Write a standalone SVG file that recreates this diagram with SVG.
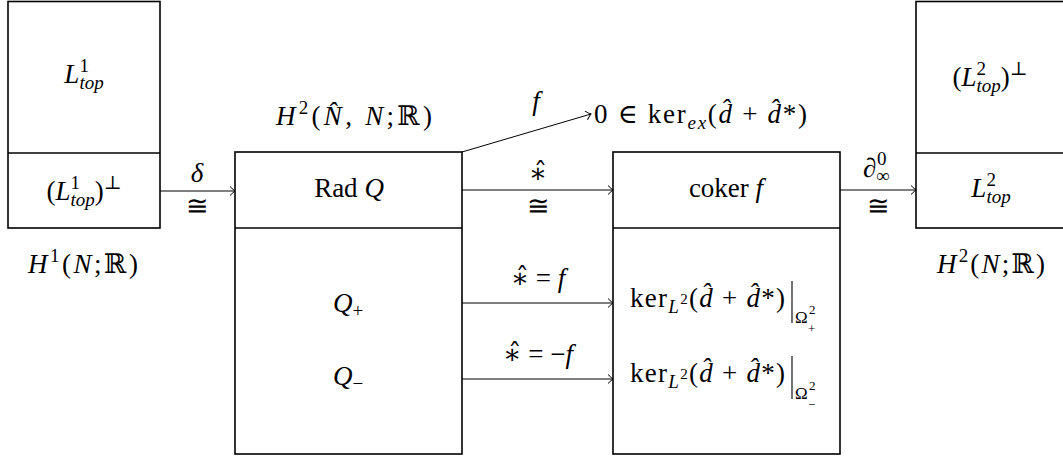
<svg xmlns="http://www.w3.org/2000/svg" width="1063" height="459" viewBox="0 0 1063 459" font-family="'Liberation Serif', 'Times New Roman', 'DejaVu Serif', serif">
<style>
text{font-family:'Liberation Serif','Times New Roman','DejaVu Serif',serif;font-size:27px;fill:#000}
.c{text-anchor:middle}
.i{font-style:italic}
.s{font-size:19px}
.ss{font-size:15px}
.om{font-size:17px}
.os{font-size:13px}
.box{fill:#fff;stroke:#000;stroke-width:1.6}
.div{stroke:#000;stroke-width:1.6}
.arr{stroke:#000;stroke-width:1;fill:none}
.bar{stroke:#000;stroke-width:1.1}
</style>
<defs>
<marker id="ah" markerUnits="userSpaceOnUse" viewBox="-7 -6 8 12" markerWidth="8" markerHeight="12" refX="0" refY="0" orient="auto">
<path d="M-5,-4.5 Q-1.5,-1 0,0 Q-1.5,1 -5,4.5" fill="none" stroke="#000" stroke-width="1"/>
</marker>
</defs>

<g id="node-left">
<rect class="box" x="8" y="1.5" width="152" height="226.5"/>
<line class="div" x1="8" y1="153" x2="160" y2="153"/>
<text class="c" x="84" y="83"><tspan class="i">L</tspan><tspan class="s" dy="-11">1</tspan><tspan class="s i" dx="-9.5" dy="17">top</tspan></text>
<text class="c" x="84" y="200">(<tspan class="i">L</tspan><tspan class="s" dy="-11">1</tspan><tspan class="s i" dx="-9.5" dy="17">top</tspan><tspan dy="-6">)</tspan><tspan class="s" dy="-11">⊥</tspan></text>
</g>
<g id="label-H1">
<text x="28" y="273" textLength="110" lengthAdjust="spacing"><tspan class="i">H</tspan><tspan class="s" dy="-11">1</tspan><tspan dy="11">(</tspan><tspan class="i">N</tspan>;ℝ)</text>
</g>

<g id="node-rad">
<rect class="box" x="235" y="152" width="227" height="302"/>
<line class="div" x1="235" y1="228" x2="462" y2="228"/>
<text class="c" x="349" y="197">Rad <tspan class="i">Q</tspan></text>
<text class="c" x="348" y="312"><tspan class="i">Q</tspan><tspan class="s" dy="5">+</tspan></text>
<text class="c" x="348" y="385"><tspan class="i">Q</tspan><tspan class="s" dy="5">−</tspan></text>
</g>
<g id="label-H2rel">
<text x="276" y="125" textLength="156" lengthAdjust="spacing"><tspan class="i">H</tspan><tspan class="s" dy="-11">2</tspan><tspan dy="11">(</tspan><tspan class="i">N̂</tspan>, <tspan class="i">N</tspan>;ℝ)</text>
</g>

<g id="node-coker">
<rect class="box" x="613" y="152" width="227" height="302"/>
<line class="div" x1="613" y1="228" x2="840" y2="228"/>
<text class="c" x="726" y="197">coker <tspan class="i">f</tspan></text>
<text x="630" y="307" textLength="155" lengthAdjust="spacing">ker<tspan class="s i" dy="6">L</tspan><tspan class="ss" dy="-9">2</tspan><tspan dy="3">(</tspan><tspan class="i">d̂</tspan> + <tspan class="i">d̂</tspan>*)</text>
<line class="bar" x1="792" y1="281" x2="792" y2="323"/>
<text x="795" y="323" class="om">Ω</text>
<text x="809" y="314" class="os">2</text>
<text x="808" y="333" class="os">+</text>
<text x="630" y="382" textLength="155" lengthAdjust="spacing">ker<tspan class="s i" dy="6">L</tspan><tspan class="ss" dy="-9">2</tspan><tspan dy="3">(</tspan><tspan class="i">d̂</tspan> + <tspan class="i">d̂</tspan>*)</text>
<line class="bar" x1="792" y1="356" x2="792" y2="399"/>
<text x="795" y="399" class="om">Ω</text>
<text x="809" y="390" class="os">2</text>
<text x="808" y="409" class="os">−</text>
</g>
<g id="label-kerex">
<text x="594" y="123" textLength="213" lengthAdjust="spacing">0 ∈  ker<tspan class="s i" dy="6">ex</tspan><tspan dy="-6">(</tspan><tspan class="i">d̂</tspan> + <tspan class="i">d̂</tspan>*)</text>
</g>

<g id="node-right">
<rect class="box" x="916" y="1.5" width="160" height="226.5"/>
<line class="div" x1="916" y1="153" x2="1070" y2="153"/>
<text class="c" x="990" y="86">(<tspan class="i">L</tspan><tspan class="s" dy="-11">2</tspan><tspan class="s i" dx="-9.5" dy="17">top</tspan><tspan dy="-6">)</tspan><tspan class="s" dy="-11">⊥</tspan></text>
<text class="c" x="991" y="197"><tspan class="i">L</tspan><tspan class="s" dy="-11">2</tspan><tspan class="s i" dx="-9.5" dy="17">top</tspan></text>
</g>
<g id="label-H2">
<text x="937" y="273" textLength="108" lengthAdjust="spacing"><tspan class="i">H</tspan><tspan class="s" dy="-11">2</tspan><tspan dy="11">(</tspan><tspan class="i">N</tspan>;ℝ)</text>
</g>

<g id="connectors">
<line class="arr" x1="160" y1="191" x2="235" y2="191" marker-end="url(#ah)"/>
<text class="c i" x="197" y="182">δ</text>
<text class="c" x="197" y="215">≅</text>
<line class="arr" x1="462" y1="152" x2="591" y2="114" marker-end="url(#ah)"/>
<text class="c i" x="536" y="110">f</text>
<line class="arr" x1="462" y1="190" x2="613" y2="190" marker-end="url(#ah)"/>
<text class="c" x="538" y="182">∗̂</text>
<text class="c" x="538" y="215">≅</text>
<line class="arr" x1="840" y1="190" x2="916" y2="190" marker-end="url(#ah)"/>
<text x="863" y="177" class="i">∂</text>
<text x="877" y="165" class="s">0</text>
<text x="876" y="182" class="s">∞</text>
<text class="c" x="878" y="215">≅</text>
<line class="arr" x1="462" y1="303" x2="613" y2="303" marker-end="url(#ah)"/>
<text class="c" x="538" y="287">∗̂ = <tspan class="i">f</tspan></text>
<line class="arr" x1="462" y1="379" x2="613" y2="379" marker-end="url(#ah)"/>
<text class="c" x="538" y="363">∗̂ = −<tspan class="i">f</tspan></text>
</g>
</svg>
